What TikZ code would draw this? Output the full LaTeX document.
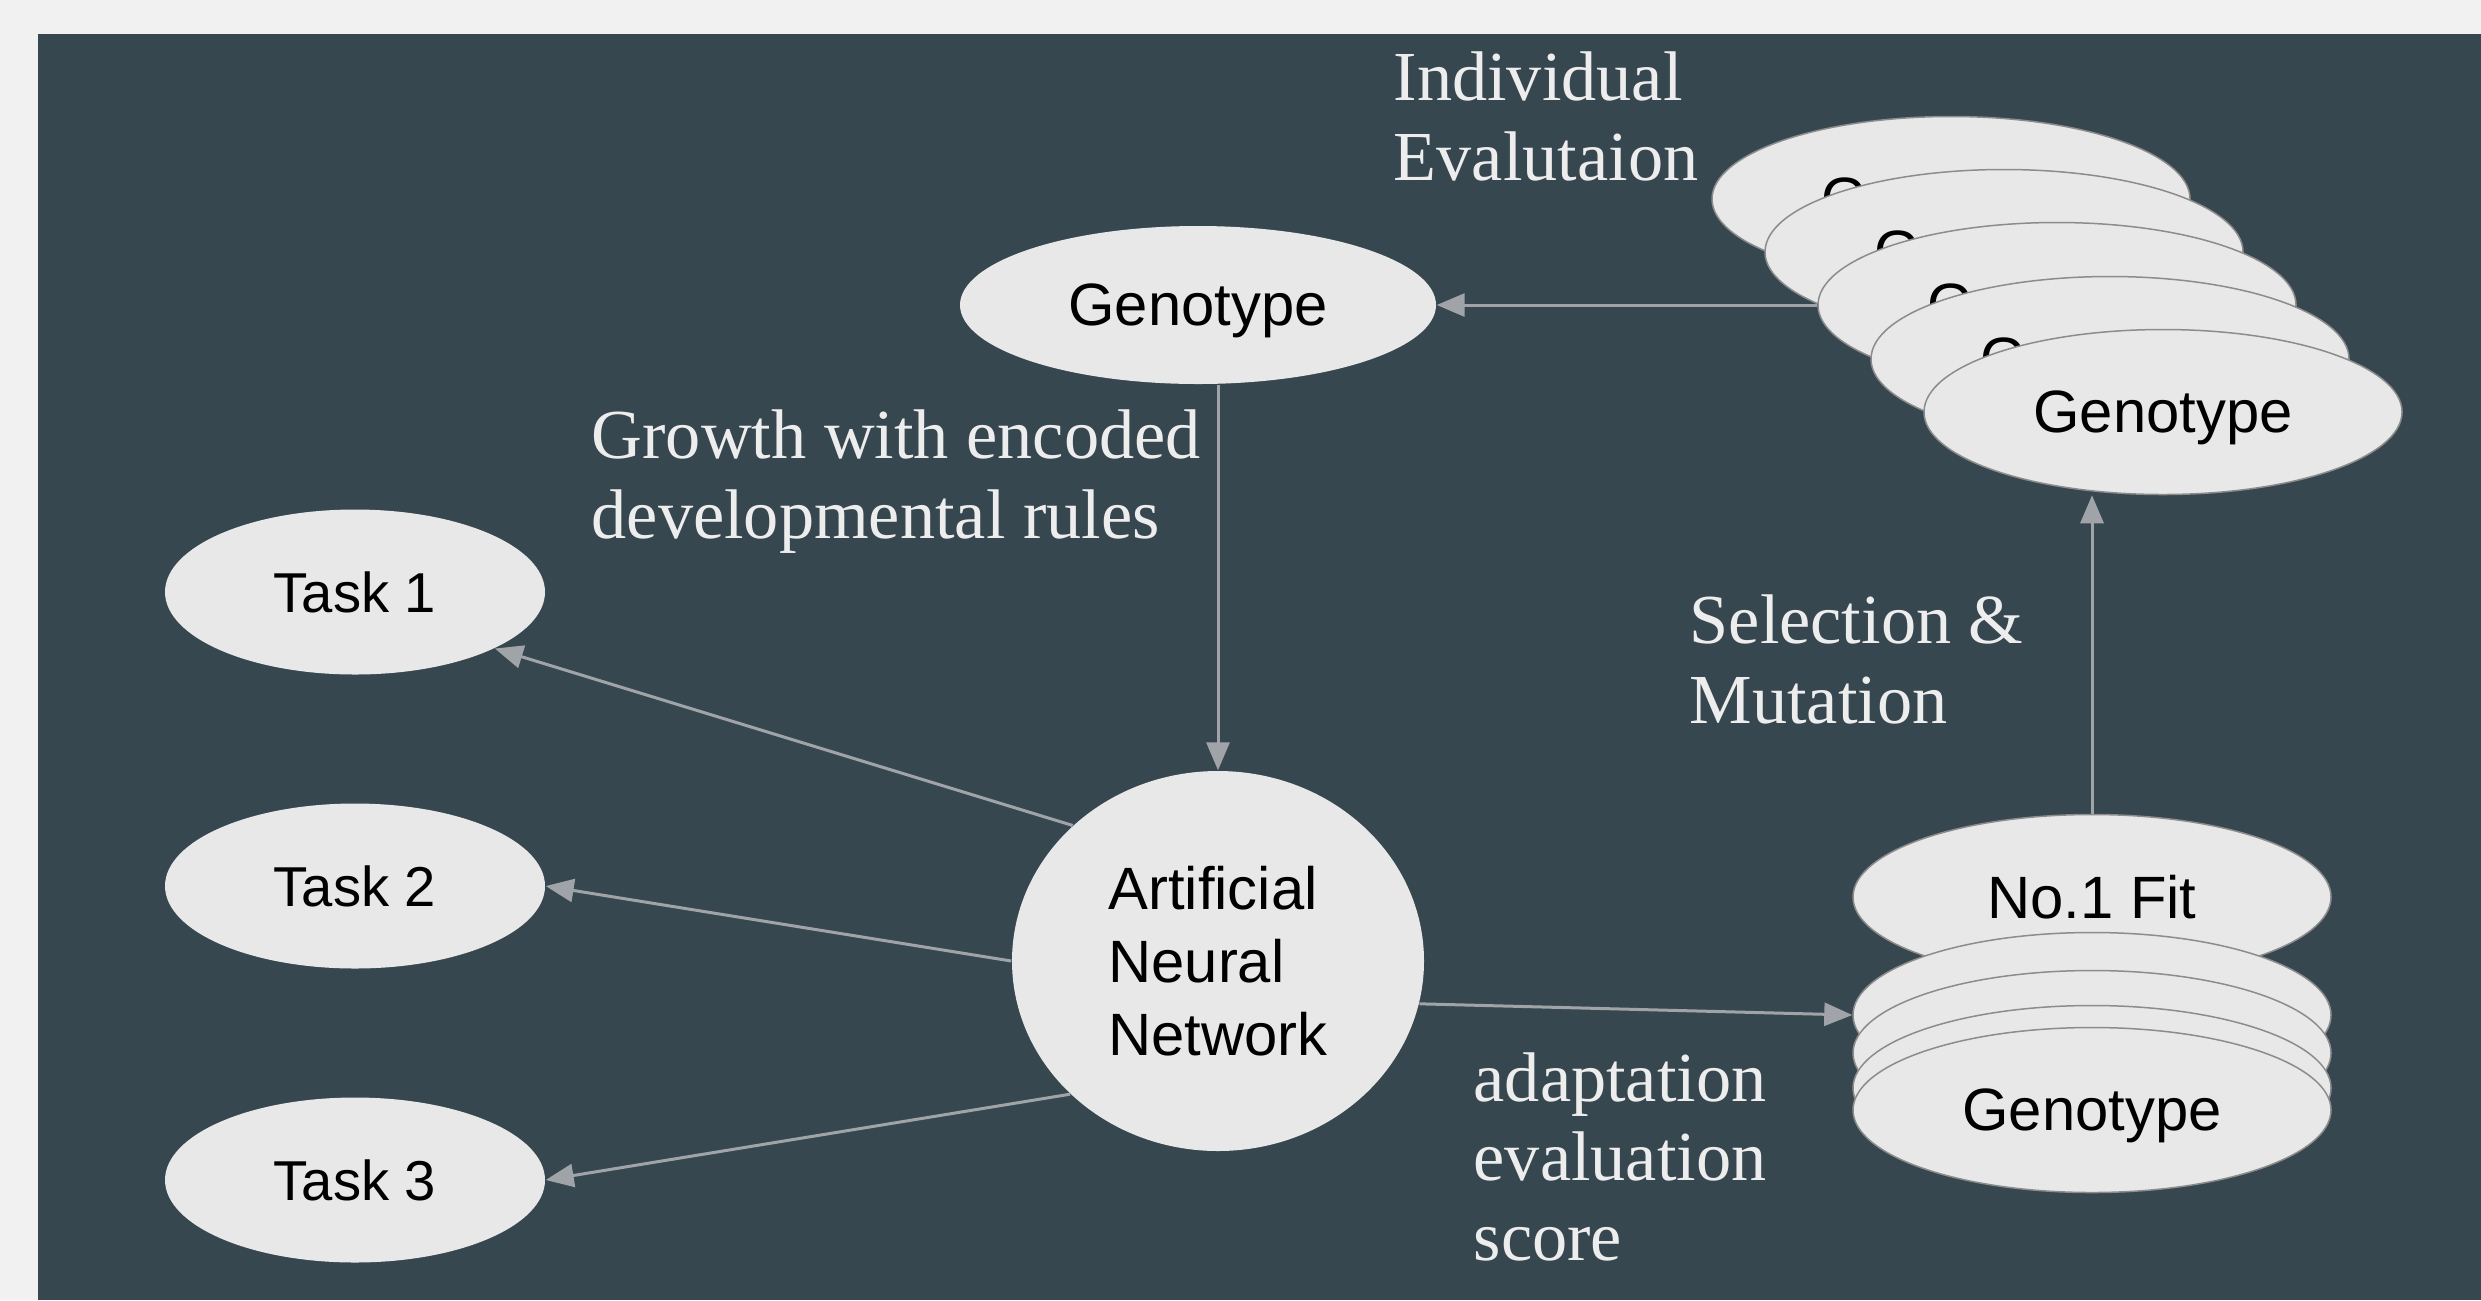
\documentclass[tikz,border=0pt]{standalone}
\usepackage{fontspec}
\setmainfont{Liberation Serif}
\newfontfamily\boxfont{Liberation Sans}
\usepackage{xcolor}
\usetikzlibrary{positioning}
\usetikzlibrary{shapes.geometric,arrows.meta}
\definecolor{slate}{HTML}{37474F}
\definecolor{paper}{HTML}{F1F1F1}
\definecolor{blobfill}{HTML}{E8E8E8}
\definecolor{wire}{HTML}{A0A4A8}
\definecolor{rim}{HTML}{8C8C8C}
\definecolor{chalk}{HTML}{EDEDED}

\begin{document}
\begin{tikzpicture}[x=0.1mm, y=-0.1mm,
        >={Triangle[length=2.8mm,width=2.3mm]},
        blob/.style = {ellipse, fill=blobfill, inner sep=0pt, align=center,
                       font=\boxfont\fontsize{17}{20.8}\selectfont,
                       minimum width=47.6mm, minimum height=15.8mm},
        task/.style = {blob, minimum width=38mm, minimum height=16.5mm,
                       font=\boxfont\fontsize{16}{19}\selectfont, node distance=29.4mm},
        card/.style = {blob, draw=rim, line width=0.15mm, text depth=0pt,
                       minimum width=47.8mm, minimum height=16.5mm},
        lbl/.style = {anchor=base west, inner sep=0pt, text=chalk, align=left,
                      font=\fontsize{20}{22.5}\selectfont},
        arr/.style = {draw=wire, line width=0.3mm}
        ]
        \useasboundingbox (0,0) rectangle (2481,1300);
        \fill[paper] (0,0) rectangle (2481,1300);
        \fill[slate] (38,34) rectangle (2481,1300);

        % left side
        \node[blob, text depth=0pt] (geno) at (1198,305) {Genotype};
        \node[task] (t1) at (355,592) {Task 1};
        \node[task] (t2) [below of=t1] {Task 2};
        \node[task] (t3) [below of=t2] {Task 3};
        \node[blob, minimum width=41.2mm, minimum height=38mm, align=left] (ann) at (1218,961) {Artificial\\Neural\\Network};

        % population, back to front
        \node[card] (g1) at (1951,199) {Genotype};
        \node[card] (g2) at (2004,252) {Genotype};
        \node[card] (g3) at (2057,305) {Genotype};
        \node[card] (g4) at (2110,359) {Genotype};
        \node[card] (g5) at (2163,412) {Genotype};

        % ranked genotypes
        \node[card] (fit) at (2092,897) {No.1 Fit};
        \node[card] (s1) at (2092,1015) {};
        \node[card] (s2) at (2092,1053) {};
        \node[card] (s3) at (2092,1088) {};
        \node[card] (s4) at (2092,1110) {Genotype};

        % labels (base = last line)
        \node[lbl] (ind) at (1393,180) {Individual\\Evalutaion};
        \node[lbl] (grow) at (591,538) {Growth with encoded\\developmental rules};
        \node[lbl] (sel) at (1689,723) {Selection \&\\Mutation};
        \node[lbl] (adapt) at (1473,1260) {adaptation\\evaluation\\score};

        \draw[arr,->] (g3.west) -- (geno.east);
        \draw[arr,->] (ann.north |- geno.south) -- (ann.north);
        \draw[arr,->] (ann.137) -- (t1.-22);
        \draw[arr,->] (ann.west) -- (t2.east);
        \draw[arr,->] (ann.222) -- (t3.east);
        \draw[arr,->] (ann.-12) -- (s1.west);
        \draw[arr,->] (fit.north) -- (fit.north |- g5.south);
\end{tikzpicture}
\end{document}
